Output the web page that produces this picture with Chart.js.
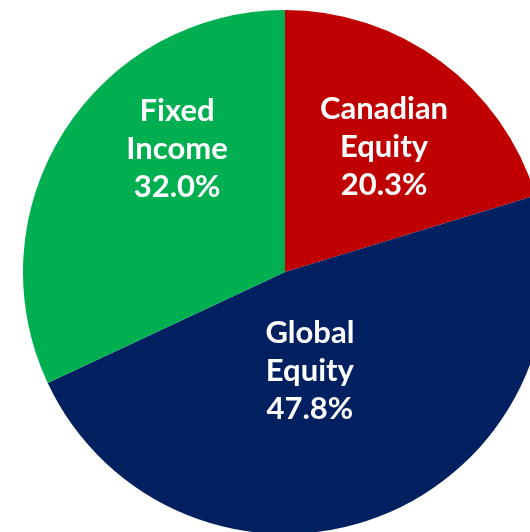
<!DOCTYPE html>
<html>
<head>
<meta charset="utf-8">
<script src="https://cdn.jsdelivr.net/npm/chart.js@4"></script>
<style>
  html, body { margin: 0; padding: 0; background: #fff; overflow: hidden; width: 530px; height: 532px; }
  #wrap { position: absolute; left: 23px; top: 10px; width: 524px; height: 524px; }
</style>
</head>
<body>
<div id="wrap"><canvas id="pie" width="524" height="524"></canvas></div>
<script>
const categories = ['Canadian Equity', 'Global Equity', 'Fixed Income'];
const labelLines = [['Canadian', 'Equity'], ['Global', 'Equity'], ['Fixed', 'Income']];
const values = [20.3, 47.8, 32.0];
const colors = ['#C00000', '#002060', '#00B050'];

// label centre offsets, in fractions of the radius from the pie centre
const labelSpots = [[0.378, -0.479], [0.095, 0.376], [-0.412, -0.471]];

const sliceLabels = {
  id: 'sliceLabels',
  afterDatasetsDraw(chart) {
    const ctx = chart.ctx;
    const arcs = chart.getDatasetMeta(0).data;
    ctx.save();
    ctx.fillStyle = '#fff';
    ctx.font = 'bold 31px Lato';
    ctx.textAlign = 'center';
    ctx.textBaseline = 'middle';
    arcs.forEach(function(arc, i) {
      const r = arc.outerRadius;
      const cx = arc.x + labelSpots[i][0] * r;
      const cy = arc.y + labelSpots[i][1] * r;
      const lines = labelLines[i].concat([values[i].toFixed(1) + '%']);
      const lh = 38;
      lines.forEach(function(t, k) {
        ctx.fillText(t, cx, cy + (k - (lines.length - 1) / 2) * lh);
      });
    });
    ctx.restore();
  }
};

new Chart(document.getElementById('pie'), {
  type: 'pie',
  data: {
    labels: categories,
    datasets: [{
      data: values,
      backgroundColor: colors,
      borderWidth: 0
    }]
  },
  options: {
    responsive: false,
    animation: false,
    layout: { padding: 0 },
    plugins: {
      legend: { display: false },
      tooltip: { enabled: false }
    }
  },
  plugins: [sliceLabels]
});
</script>
</body>
</html>
